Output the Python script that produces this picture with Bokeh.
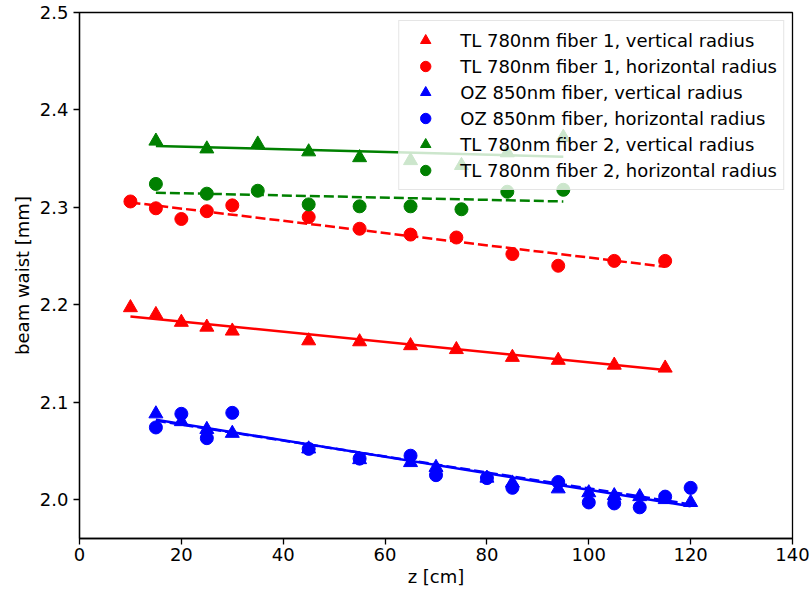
from bokeh.plotting import figure
from bokeh.models import Range1d, FixedTicker, PrintfTickFormatter, Legend, LegendItem
from bokeh.embed import file_html
from bokeh.resources import INLINE

# ---- data ----
z_tl1 = [10, 15, 20, 25, 30, 45, 55, 65, 74, 85, 94, 105, 115]
tl1_vert = [2.197, 2.190, 2.182, 2.177, 2.173, 2.163, 2.162, 2.158, 2.154, 2.146, 2.143, 2.138, 2.135]
tl1_horiz = [2.306, 2.299, 2.288, 2.296, 2.302, 2.290, 2.278, 2.272, 2.269, 2.252, 2.240, 2.245, 2.245]

z_oz = [15, 20, 25, 30, 45, 55, 65, 70, 80, 85, 94, 100, 105, 110, 115, 120]
oz_vert = [2.088, 2.080, 2.072, 2.068, 2.052, 2.041, 2.038, 2.033, 2.022, 2.017, 2.011, 2.007, 2.004, 2.003, 2.000, 1.997]
oz_horiz = [2.074, 2.088, 2.063, 2.089, 2.052, 2.042, 2.045, 2.025, 2.022, 2.012, 2.018, 1.997, 1.996, 1.992, 2.003, 2.012]

z_tl2 = [15, 25, 35, 45, 55, 65, 75, 84, 95]
tl2_vert = [2.368, 2.360, 2.365, 2.357, 2.351, 2.348, 2.343, 2.356, 2.372]
tl2_horiz = [2.324, 2.314, 2.317, 2.303, 2.301, 2.301, 2.298, 2.316, 2.318]

# fitted lines (end points)
fit_z_tl1 = [10, 115]
fit_tl1_vert = [2.188, 2.133]
fit_tl1_horiz = [2.305, 2.239]
fit_z_oz = [15, 120]
fit_oz_vert = [2.082, 1.993]
fit_oz_horiz = [2.081, 1.995]
fit_z_tl2 = [15, 95]
fit_tl2_vert = [2.363, 2.352]
fit_tl2_horiz = [2.315, 2.306]

labels = [
    "TL 780nm fiber 1, vertical radius",
    "TL 780nm fiber 1, horizontal radius",
    "OZ 850nm fiber, vertical radius",
    "OZ 850nm fiber, horizontal radius",
    "TL 780nm fiber 2, vertical radius",
    "TL 780nm fiber 2, horizontal radius",
]
x_ticks = [0, 20, 40, 60, 80, 100, 120, 140]
y_ticks = [2.0, 2.1, 2.2, 2.3, 2.4, 2.5]

FONT = "DejaVu Sans"
FS = "18px"

p = figure(width=811, height=595, output_backend="svg", toolbar_location=None,
           x_range=Range1d(0, 140), y_range=Range1d(1.96, 2.5),
           min_border_left=79, min_border_right=19, min_border_top=12, min_border_bottom=57)
p.grid.visible = False
p.outline_line_color = "black"
p.outline_line_width = 1.3
p.background_fill_color = "white"
p.border_fill_color = "white"

for ax in (p.xaxis[0], p.yaxis[0]):
    ax.major_tick_out = 6
    ax.major_tick_in = 0
    ax.minor_tick_line_color = None
    ax.axis_line_color = "black"
    ax.axis_line_width = 1.3
    ax.major_tick_line_width = 1.3
    ax.major_label_text_font = FONT
    ax.major_label_text_font_size = FS
    ax.major_label_text_color = "black"
    ax.axis_label_text_font = FONT
    ax.axis_label_text_font_size = FS
    ax.axis_label_text_font_style = "normal"
    ax.axis_label_text_color = "black"

p.xaxis.ticker = FixedTicker(ticks=x_ticks)
p.yaxis.ticker = FixedTicker(ticks=y_ticks)
p.yaxis.formatter = PrintfTickFormatter(format="%.1f")
p.xaxis.axis_label = "z [cm]"
p.yaxis.axis_label = "beam waist [mm]"
p.xaxis.major_label_standoff = 3
p.xaxis.axis_label_standoff = 2
p.yaxis.major_label_standoff = 5
p.yaxis.axis_label_standoff = 4

RED, BLUE, GREEN = "#ff0000", "#0000ff", "#008000"
LW = 2.5
DASH = "10 4"

series = [
    (z_tl1, tl1_vert, RED, "triangle", fit_z_tl1, fit_tl1_vert, "solid"),
    (z_tl1, tl1_horiz, RED, "circle", fit_z_tl1, fit_tl1_horiz, DASH),
    (z_oz, oz_vert, BLUE, "triangle", fit_z_oz, fit_oz_vert, "solid"),
    (z_oz, oz_horiz, BLUE, "circle", fit_z_oz, fit_oz_horiz, DASH),
    (z_tl2, tl2_vert, GREEN, "triangle", fit_z_tl2, fit_tl2_vert, "solid"),
    (z_tl2, tl2_horiz, GREEN, "circle", fit_z_tl2, fit_tl2_horiz, DASH),
]

items = []
for (zs, ys, col, mk, fz, fy, dash), lab in zip(series, labels):
    size = 14 if mk == "triangle" else 13
    r = p.scatter(zs, ys, marker=mk, size=size, fill_color=col, line_color=col)
    p.line(fz, fy, line_color=col, line_width=LW, line_dash=dash)
    items.append(LegendItem(label=lab, renderers=[r]))

legend = Legend(items=items, location="top_right")
legend.label_text_font = FONT
legend.label_text_font_size = FS
legend.label_text_color = "black"
legend.glyph_width = 40
legend.glyph_height = 26
legend.label_height = 20
legend.spacing = 0
legend.padding = 6
legend.label_standoff = 15
legend.margin = 8
legend.background_fill_color = "white"
legend.background_fill_alpha = 0.8
legend.border_line_color = "#cccccc"
legend.border_line_width = 1.3
p.add_layout(legend)

open("out.html", "w").write(file_html(p, INLINE))
